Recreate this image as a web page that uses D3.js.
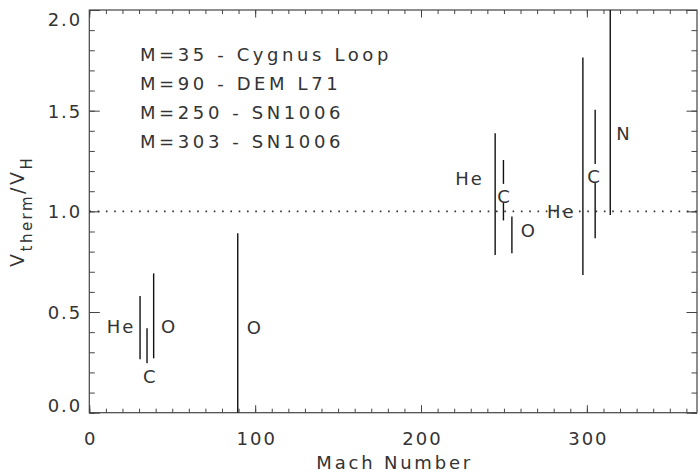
<!DOCTYPE html>
<html>
<head>
<meta charset="utf-8">
<script src="https://cdn.jsdelivr.net/npm/d3@7"></script>
<style>
  body { margin: 0; background: #fff; }
  text { font-family: 'DejaVu Sans', sans-serif; font-size: 18px; fill: #333; letter-spacing: 2px; }
</style>
</head>
<body>
<svg id="chart" width="698" height="473"></svg>
<script>
// one vertical bar per element: Mach number and range of v_therm / v_H
const elements = ['He', 'C', 'O', 'O', 'He', 'C', 'O', 'He', 'C', 'N']
const machNumbers = [30.6, 34.8, 38.8, 89.5, 244.7, 249.7, 254.8, 297.6, 305.0, 314.1]
const ratioLow = [0.265, 0.245, 0.270, 0.0, 0.783, 0.955, 0.792, 0.684, 0.866, 0.982]
const ratioHigh = [0.580, 0.419, 0.692, 0.891, 1.388, 1.255, 0.974, 1.764, 1.504, 2.0]

// where each element name was written (data coords, left/baseline)
const labelMach = [10.5, 32.4, 43.2, 94.9, 220.6, 245.9, 260.2, 275.9, 300.2, 317.7]
const labelRatio = [0.397, 0.149, 0.396, 0.391, 1.131, 1.042, 0.874, 0.967, 1.141, 1.355]

const remnants = ['M=35 - Cygnus Loop', 'M=90 - DEM L71', 'M=250 - SN1006', 'M=303 - SN1006']

const xTicks = [0, 100, 200, 300]
const yTicks = [0.0, 0.5, 1.0, 1.5, 2.0]
const xMax = 366.4
const yMax = 2

const marginLeft = 89.3
const plotRight = 697
const marginTop = 10
const plotBottom = 412.7
const width = plotRight - marginLeft
const height = plotBottom - marginTop

const svg = d3.select('#chart')
const g = svg.append('g').attr('transform', `translate(${marginLeft}, ${marginTop})`)

const x = d3.scaleLinear().domain([0, xMax]).range([0, width])
const y = d3.scaleLinear().domain([0, yMax]).range([height, 0])

const minorX = d3.range(0, xMax, 10)
const minorY = d3.range(0, yMax + 0.001, 0.1)

const styleAxis = (sel) => {
    sel.select('.domain').remove()
    sel.selectAll('line').attr('stroke', '#444')
}

// minor ticks, all four sides
g.append('g').attr('transform', `translate(0, ${height})`)
    .call(d3.axisBottom(x).tickValues(minorX).tickSize(-4).tickFormat(''))
    .call(styleAxis)
g.append('g')
    .call(d3.axisTop(x).tickValues(minorX).tickSize(-4).tickFormat(''))
    .call(styleAxis)
g.append('g')
    .call(d3.axisLeft(y).tickValues(minorY).tickSize(-5.5).tickFormat(''))
    .call(styleAxis)
g.append('g').attr('transform', `translate(${width}, 0)`)
    .call(d3.axisRight(y).tickValues(minorY).tickSize(-5.5).tickFormat(''))
    .call(styleAxis)

// major ticks + labels
g.append('g').attr('transform', `translate(0, ${height})`)
    .call(d3.axisBottom(x).tickValues(xTicks).tickSize(-7.5).tickPadding(19.5).tickFormat(d3.format('d')))
    .call(styleAxis)
    .call((a) => a.selectAll('text').attr('font-size', null).attr('font-family', null).attr('dx', 1))
g.append('g')
    .call(d3.axisTop(x).tickValues(xTicks).tickSize(-7.5).tickFormat(''))
    .call(styleAxis)
g.append('g')
    .call(d3.axisLeft(y).tickValues(yTicks).tickSize(-10.5).tickPadding(7).tickFormat(d3.format('.1f')))
    .call(styleAxis)
    .call((a) => a.selectAll('text')
        .attr('font-size', null).attr('font-family', null)
        .attr('dy', (d) => d === yMax ? '0.85em' : d === 0 ? '-0.05em' : '0.36em'))
g.append('g').attr('transform', `translate(${width}, 0)`)
    .call(d3.axisRight(y).tickValues(yTicks).tickSize(-10.5).tickFormat(''))
    .call(styleAxis)
g.selectAll('.tick text').attr('fill', '#333')

// frame
g.append('rect')
    .attr('width', width)
    .attr('height', height)
    .attr('fill', 'none')
    .attr('stroke', '#444')
    .attr('stroke-width', 1.2)

// v_therm = v_H reference
g.append('line')
    .attr('x1', x(0)).attr('x2', x(xMax))
    .attr('y1', y(1)).attr('y2', y(1))
    .attr('stroke', '#333')
    .attr('stroke-width', 1.6)
    .attr('stroke-dasharray', '1.6,6.7')

const bars = elements.map((name, i) => ({
    name,
    mach: machNumbers[i],
    low: ratioLow[i],
    high: ratioHigh[i],
    lx: labelMach[i],
    ly: labelRatio[i]
}))

g.append('g').selectAll('line')
    .data(bars)
    .enter()
    .append('line')
    .attr('x1', (d) => x(d.mach)).attr('x2', (d) => x(d.mach))
    .attr('y1', (d) => y(d.low)).attr('y2', (d) => y(d.high))
    .attr('stroke', '#111')
    .attr('stroke-width', 1.4)

const labels = g.append('g').selectAll('g')
    .data(bars)
    .enter()
    .append('g')

labels.append('text')
    .attr('x', (d) => x(d.lx))
    .attr('y', (d) => y(d.ly))
    .text((d) => d.name)

// names written across their own bar blank the bar out
labels.each(function (d) {
    const t = d3.select(this).select('text')
    const w = t.node().getComputedTextLength()
    const x0 = x(d.lx)
    if (x0 < x(d.mach) && x(d.mach) < x0 + w) {
        d3.select(this).insert('rect', 'text')
            .attr('x', x0 - 1)
            .attr('y', y(d.ly) - 19)
            .attr('width', w + 2)
            .attr('height', 19)
            .attr('fill', '#fff')
    }
})

// remnant list
g.append('g').selectAll('text')
    .data(remnants)
    .enter()
    .append('text')
    .attr('x', 140 - marginLeft)
    .attr('y', (d, i) => 61 - marginTop + i * 29)
    .style('letter-spacing', '3.6px')
    .text((d) => d)

// axis titles
svg.append('text')
    .attr('x', marginLeft + width / 2 + 1.5)
    .attr('y', 468.5)
    .attr('text-anchor', 'middle')
    .style('letter-spacing', '2.8px')
    .text('Mach Number')

const yTitle = svg.append('text')
    .attr('transform', `translate(24, ${marginTop + height / 2}) rotate(-90)`)
    .attr('text-anchor', 'middle')
    .style('letter-spacing', '2.5px')
yTitle.append('tspan').attr('font-size', 19).text('V')
yTitle.append('tspan').attr('font-size', 15).attr('dy', 8).text('therm')
yTitle.append('tspan').attr('font-size', 19).attr('dy', -8).text('/V')
yTitle.append('tspan').attr('font-size', 15).attr('dy', 8).text('H')
</script>
</body>
</html>
